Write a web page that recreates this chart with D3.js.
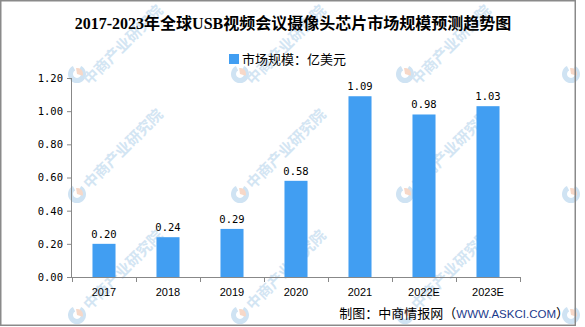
<!DOCTYPE html>
<html><head><meta charset="utf-8">
<script src="https://cdn.jsdelivr.net/npm/d3@7"></script>
<style>html,body{margin:0;padding:0;background:#fff;}svg{display:block;}</style>
</head><body>
<svg id="c" width="585" height="327"></svg>
<script>
const categories = ["2017","2018","2019","2020","2021","2022E","2023E"];
const values = [0.20,0.24,0.29,0.58,1.09,0.98,1.03];
const yTicks = [0,0.2,0.4,0.6,0.8,1.0,1.2];
const titleText = "2017-2023年全球USB视频会议摄像头芯片市场规模预测趋势图";
const legendText = "市场规模：亿美元";
const wmText = "中商产业研究院";
const wmX = [77,240,405,571];
const wmY = [90,194,315];

const svg = d3.select("#c");
const W=585,H=327;
svg.append("rect").attr("x",0).attr("y",0).attr("width",W).attr("height",H).attr("fill","#fff");

// watermarks
const wm = svg.append("g").attr("class","wm");
wmY.forEach((y,ri)=>wmX.forEach((x,ci)=>{
  const g = wm.append("g").attr("transform",`translate(${x},${ri===0?y-16:y})`);
  const arc = d3.arc().innerRadius(4).outerRadius(9);
  g.append("path").attr("d",arc({startAngle:Math.PI*0.15,endAngle:Math.PI*1.85})).attr("fill","#cfe3f3");
  g.append("path").attr("d",d3.arc().innerRadius(0).outerRadius(6)({startAngle:-Math.PI*0.05,endAngle:Math.PI*0.6})).attr("fill","#f7d8c8");
  if (ci < wmX.length-1) {
    g.append("text").attr("transform",`translate(0,${ri===0?16:0}) rotate(-45) translate(12,6)`)
      .attr("font-family","Noto Sans CJK SC").attr("font-size",15).attr("font-weight","bold")
      .attr("fill","#d3e5f3").text(wmText);
  }
}));

// border
svg.append("rect").attr("x",0.75).attr("y",0.75).attr("width",574.5).attr("height",324.5)
  .attr("fill","none").attr("stroke","#8a8a8a").attr("stroke-width",1.5);

// title
svg.append("text").attr("x",293).attr("y",29).attr("text-anchor","middle")
  .attr("font-family","'Liberation Serif','Noto Sans CJK SC'").attr("font-weight","bold").attr("font-size",16)
  .attr("fill","#000").text(titleText);

// legend
svg.append("rect").attr("x",229).attr("y",54).attr("width",10).attr("height",10).attr("fill","#419ef2");
svg.append("text").attr("x",242).attr("y",63.5).attr("font-family","'Noto Sans CJK SC'").attr("font-size",13)
  .attr("fill","#000").text(legendText);

// scales
const x0=72,x1=520,yb=277,yt=78;
const xCell = d3.scaleBand().domain(categories).range([x0,x1]).padding(0);
const xBar = d3.scaleBand().domain(categories).range([x0,x1]).paddingInner(0.64).paddingOuter(0.32);
const y = d3.scaleLinear().domain([0,1.2]).range([yb,yt]);

// bars
svg.append("g").selectAll("rect").data(values).join("rect")
  .attr("x",(d,i)=>xBar(categories[i])).attr("width",xBar.bandwidth())
  .attr("y",d=>y(d)).attr("height",d=>yb-y(d)).attr("fill","#419ef2");

// value labels
svg.append("g").selectAll("text").data(values).join("text")
  .attr("x",(d,i)=>xBar(categories[i])+xBar.bandwidth()/2).attr("y",d=>y(d)-6)
  .attr("text-anchor","middle").attr("font-family","'DejaVu Sans Mono'").attr("font-size",10.5)
  .attr("fill","#000").text(d=>d.toFixed(2));

// y axis
const ya = svg.append("g").attr("transform",`translate(${x0},0)`)
  .call(d3.axisLeft(y).tickValues(yTicks).tickFormat(d3.format(".2f")).tickSize(5).tickPadding(4));
ya.select(".domain").attr("stroke","#888").attr("d",`M-0.5,${yt}V${yb}`);
ya.selectAll(".tick line").attr("stroke","#888");
ya.selectAll(".tick text").attr("font-family","'DejaVu Sans Mono'").attr("font-size",10.5).attr("fill","#000");

// x axis
const xa = svg.append("g").attr("transform",`translate(0,${yb})`);
xa.append("line").attr("x1",x0).attr("x2",x1).attr("y1",0.5).attr("y2",0.5).attr("stroke","#888");
const edges = categories.map(c=>xCell(c)).concat([x1]);
xa.selectAll("line.t").data(edges).join("line").attr("class","t")
  .attr("x1",d=>d+0.5).attr("x2",d=>d+0.5).attr("y1",0).attr("y2",5).attr("stroke","#888");
xa.selectAll("text").data(categories).join("text")
  .attr("x",d=>xCell(d)+xCell.bandwidth()/2).attr("y",19)
  .attr("text-anchor","middle").attr("font-family","'Liberation Sans'").attr("font-size",11)
  .attr("fill","#000").text(d=>d);

// footer
const ft = svg.append("text").attr("x",569).attr("y",318).attr("text-anchor","end")
  .attr("font-family","'Noto Sans CJK SC'").attr("font-size",13).attr("fill","#000");
ft.append("tspan").text("制图：中商情报网（");
ft.append("tspan").attr("font-family","'Liberation Sans'").attr("font-size",11.5).attr("fill","#1b3a8c").text("WWW.ASKCI.COM");
ft.append("tspan").text("）");
</script>
</body></html>
